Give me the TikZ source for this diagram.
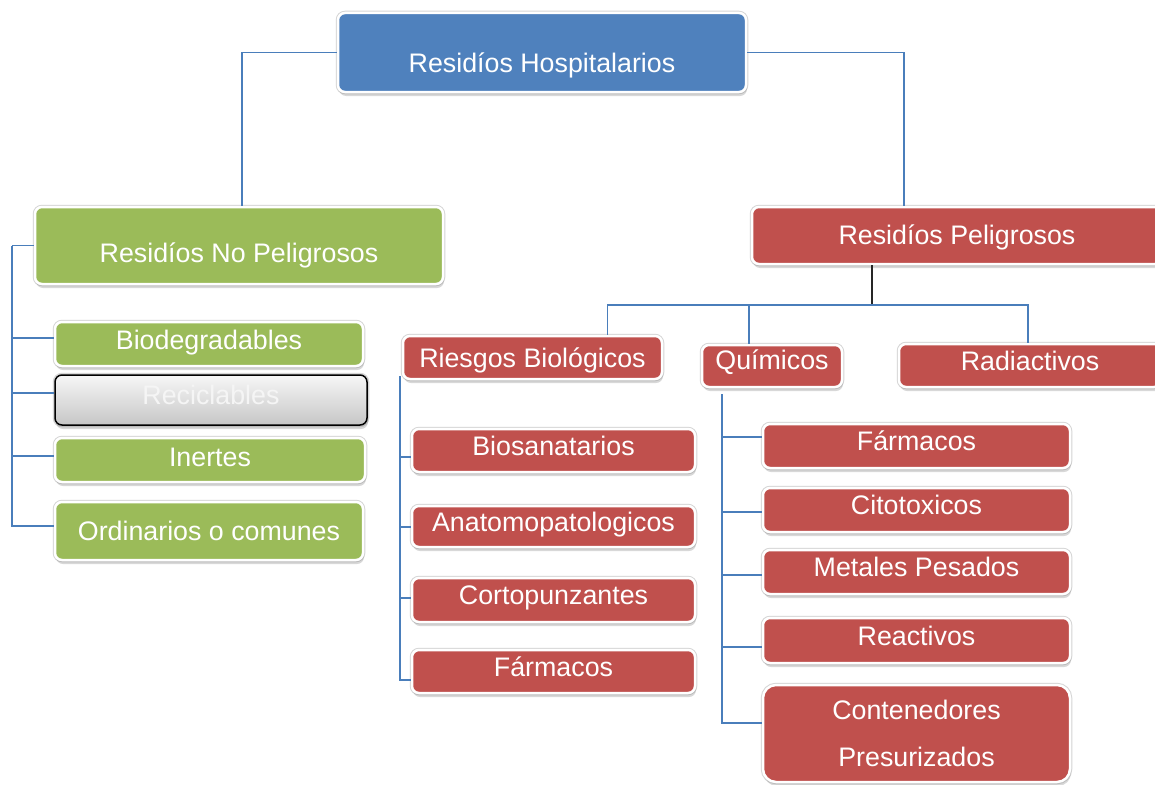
\documentclass[tikz,border=0pt]{standalone}
\usepackage{fontspec}
\setmainfont{Liberation Sans}
\usetikzlibrary{shadows}
\definecolor{hospblue}{HTML}{4F81BD}
\definecolor{nopelgreen}{HTML}{9BBB59}
\definecolor{pelred}{HTML}{C0504D}
\definecolor{linkblue}{HTML}{4A7EBB}
\tikzset{
  box/.style={rectangle, rounded corners=7pt, draw=white, line width=2.5pt, text=white,
    font=\fontsize{26.8}{47}\selectfont, inner sep=0pt, align=center,
    preaction={draw=black!16, line width=4.5pt},
    drop shadow={shadow xshift=1pt, shadow yshift=-4pt, opacity=.3}},
  dims/.style 2 args={minimum width=#1pt, minimum height=#2pt},
  tpos/.style={text height={(29.6-#1)*1pt}, text depth={(10.4+#1)*1pt}},
  blue box/.style={box, fill=hospblue, tpos=5},
  green box/.style={box, fill=nopelgreen, tpos=5},
  red box/.style={box, fill=pelred, tpos=5},
  gray box/.style={box, draw=black, line width=1.5pt, top color=gray!6, bottom color=gray!45, text=gray!8, tpos=5},
  conn/.style={draw=linkblue, line width=1.4pt},
  stem/.style={draw=black!85, line width=1.8pt}}
\begin{document}
\begin{tikzpicture}[x=1pt, y=-1pt]
\path[use as bounding box, fill=white] (0,0) rectangle (1155,784);

\node[blue box, dims={408}{79}, tpos=-10] (top) at (542,52.5) {Residíos Hospitalarios};

\node[green box, dims={408}{77}, tpos=-7] (nopel) at (239,245.5) {Residíos No Peligrosos};
\node[green box, dims={308}{44}, tpos=4] (bio) at (209,344) {Biodegradables};
\node[gray box, dims={312}{50}] (reci) at (211,400) {Reciclables};
\node[green box, dims={310}{44}, tpos=3.5] (inert) at (210,460) {Inertes};
\node[green box, dims={308}{58}, tpos=0] (ordin) at (209,531) {Ordinarios o comunes};

\node[red box, dims={410}{57}, tpos=1] (pel) at (957,235.5) {Residíos Peligrosos};
\node[red box, dims={259}{43}, tpos=0] (riesgo) at (532.5,357.5) {Riesgos Biológicos};
\node[red box, dims={140}{42}, tpos=6] (quim) at (772,366) {Químicos};
\node[red box, dims={262}{43}, tpos=4.5] (radi) at (1030,365.5) {Radiactivos};

\node[red box, dims={283}{43}] (biosan) at (553.5,450.5) {Biosanatarios};
\node[red box, dims={283}{41}] (anato) at (553.5,526.5) {Anatomopatologicos};
\node[red box, dims={283}{44}] (corto) at (553.5,600) {Cortopunzantes};
\node[red box, dims={283}{43}] (farm1) at (553.5,671.5) {Fármacos};

\node[red box, dims={307}{44}] (farm2) at (916.5,446) {Fármacos};
\node[red box, dims={307}{44}] (cito) at (916.5,510) {Citotoxicos};
\node[red box, dims={307}{44}] (metal) at (916.5,572) {Metales Pesados};
\node[red box, dims={307}{45}] (reac) at (916.5,640.5) {Reactivos};
\node[box, fill=pelred, dims={307}{97}, rounded corners=13pt] (cont) at (916.5,733.5) {Contenedores\\Presurizados};

\coordinate (lspine) at (12,0);
\coordinate (rspine) at (400,0);
\coordinate (qspine) at (722,0);
\coordinate (hub) at (872,305);

\draw[conn] (top.west) -| ([xshift=3pt]nopel.north);
\draw[conn] (top.east) -| ([xshift=-53pt]pel.north);

\draw[conn] (nopel.west) -- (nopel.west -| lspine);
\foreach \n/\dy in {bio/6,reci/7,inert/4,ordin/5}
  \draw[conn] (nopel.west -| lspine) |- ([yshift=\dy pt]\n.west);

\draw[stem] (hub |- pel.south) -- (hub);
\foreach \n/\dx in {riesgo/75,quim/-23,radi/-2}
  \draw[conn] (hub) -| ([xshift=\dx pt]\n.north);

\foreach \n/\dy in {biosan/-6.5,anato/-0.5,corto/2,farm1/-8.5}
  \draw[conn] ([yshift=4pt]riesgo.south west -| rspine) |- ([yshift=\dy pt]\n.west);

\foreach \n/\dy in {farm2/9,cito/-2,metal/-3,reac/-6.5,cont/10.5}
  \draw[conn] ([yshift=-6pt]quim.south -| qspine) |- ([yshift=\dy pt]\n.west);
\end{tikzpicture}
\end{document}
